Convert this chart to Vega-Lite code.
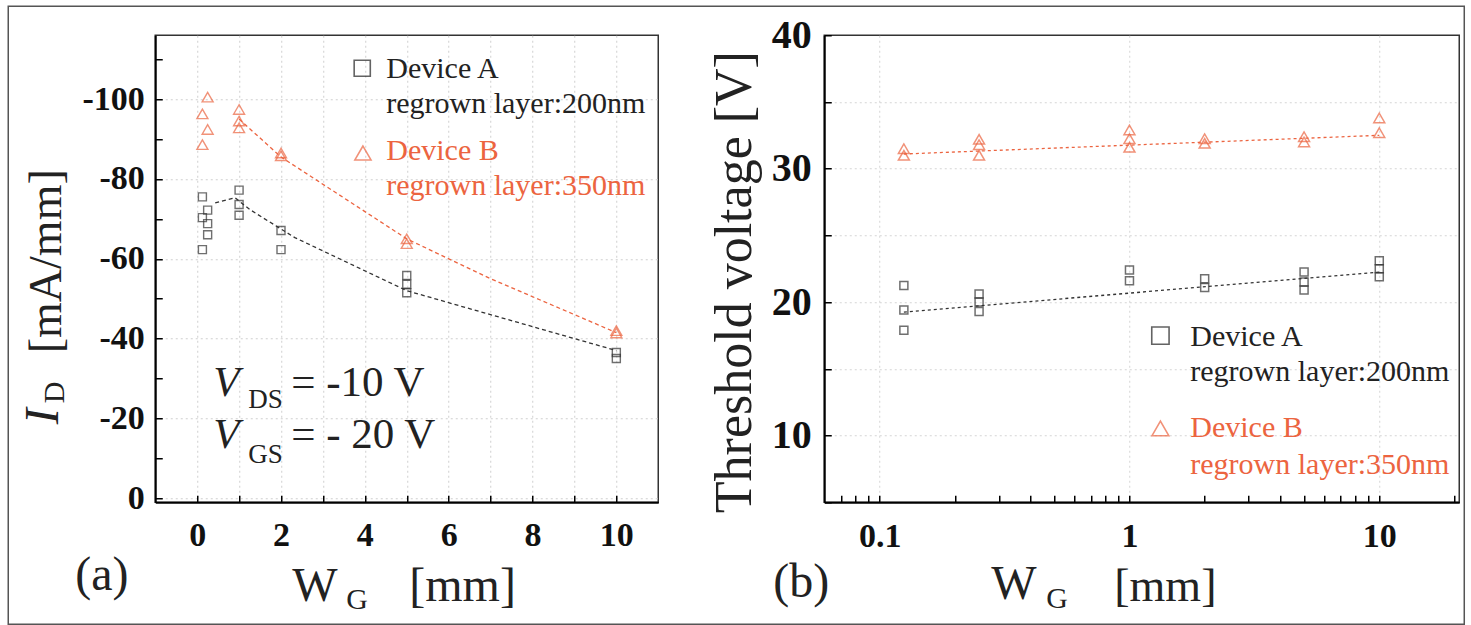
{
  "$schema": "https://vega.github.io/schema/vega-lite/v6.json",
  "background": "white",
  "padding": {"left": 6.25, "top": 4.25, "right": 0, "bottom": 0},
  "spacing": 166,
  "bounds": "flush",
  "config": {
    "view": {"stroke": "#333", "strokeWidth": 1.5},
    "font": "Liberation Serif",
    "mark": {"font": "Liberation Serif"},
    "text": {"font": "Liberation Serif"},
    "axis": {
      "domainColor": "#000", "domainWidth": 2,
      "tickColor": "#000", "tickWidth": 1.5, "tickSize": -7,
      "labelFont": "Liberation Serif", "labelFontWeight": "bold", "labelColor": "#111",
      "gridDash": [2, 3], "gridWidth": 1
    }
  },
  "datasets": {
    "one": [{}],
    "idPoints": [
      {"w": 0.125, "id": -75.5, "device": "A"}, {"w": 0.125, "id": -70.3, "device": "A"}, {"w": 0.125, "id": -62.3, "device": "A"},
      {"w": 0.25, "id": -72.2, "device": "A"}, {"w": 0.25, "id": -68.8, "device": "A"}, {"w": 0.25, "id": -66.0, "device": "A"},
      {"w": 1, "id": -77.2, "device": "A"}, {"w": 1, "id": -73.6, "device": "A"}, {"w": 1, "id": -70.9, "device": "A"},
      {"w": 2, "id": -67.1, "device": "A"}, {"w": 2, "id": -62.3, "device": "A"},
      {"w": 5, "id": -55.8, "device": "A"}, {"w": 5, "id": -53.6, "device": "A"}, {"w": 5, "id": -51.5, "device": "A"},
      {"w": 10, "id": -36.5, "device": "A"}, {"w": 10, "id": -35.0, "device": "A"},
      {"w": 0.125, "id": -96.3, "device": "B"}, {"w": 0.125, "id": -88.6, "device": "B"},
      {"w": 0.25, "id": -100.5, "device": "B"}, {"w": 0.25, "id": -92.4, "device": "B"},
      {"w": 1, "id": -97.4, "device": "B"}, {"w": 1, "id": -94.5, "device": "B"}, {"w": 1, "id": -92.8, "device": "B"},
      {"w": 2, "id": -86.5, "device": "B"}, {"w": 2, "id": -85.8, "device": "B"},
      {"w": 5, "id": -65.0, "device": "B"}, {"w": 5, "id": -63.8, "device": "B"},
      {"w": 10, "id": -42.0, "device": "B"}, {"w": 10, "id": -41.4, "device": "B"}
    ],
    "idFit": [
      {"w": 0.43, "id": -74.0, "device": "A"}, {"w": 0.9, "id": -75.3, "device": "A"}, {"w": 1.26, "id": -72.3, "device": "A"},
      {"w": 2.33, "id": -65.3, "device": "A"}, {"w": 5, "id": -52.0, "device": "A"}, {"w": 10, "id": -37.0, "device": "A"},
      {"w": 1, "id": -95.0, "device": "B"}, {"w": 2, "id": -85.5, "device": "B"}, {"w": 5, "id": -65.0, "device": "B"},
      {"w": 7, "id": -55.0, "device": "B"}, {"w": 10, "id": -41.5, "device": "B"}
    ],
    "vthPoints": [
      {"w": 0.125, "vth": 21.25, "device": "A"}, {"w": 0.125, "vth": 19.4, "device": "A"}, {"w": 0.125, "vth": 17.9, "device": "A"},
      {"w": 0.25, "vth": 20.6, "device": "A"}, {"w": 0.25, "vth": 20.0, "device": "A"}, {"w": 0.25, "vth": 19.3, "device": "A"},
      {"w": 1, "vth": 22.4, "device": "A"}, {"w": 1, "vth": 21.6, "device": "A"},
      {"w": 2, "vth": 21.75, "device": "A"}, {"w": 2, "vth": 21.1, "device": "A"},
      {"w": 5, "vth": 22.25, "device": "A"}, {"w": 5, "vth": 21.5, "device": "A"}, {"w": 5, "vth": 20.9, "device": "A"},
      {"w": 10, "vth": 23.1, "device": "A"}, {"w": 10, "vth": 22.5, "device": "A"}, {"w": 10, "vth": 21.9, "device": "A"},
      {"w": 0.125, "vth": 31.5, "device": "B"}, {"w": 0.125, "vth": 31.0, "device": "B"},
      {"w": 0.25, "vth": 32.2, "device": "B"}, {"w": 0.25, "vth": 31.8, "device": "B"}, {"w": 0.25, "vth": 31.0, "device": "B"},
      {"w": 1, "vth": 32.9, "device": "B"}, {"w": 1, "vth": 32.25, "device": "B"}, {"w": 1, "vth": 31.6, "device": "B"},
      {"w": 2, "vth": 32.25, "device": "B"}, {"w": 2, "vth": 31.9, "device": "B"},
      {"w": 5, "vth": 32.4, "device": "B"}, {"w": 5, "vth": 32.0, "device": "B"},
      {"w": 10, "vth": 33.8, "device": "B"}, {"w": 10, "vth": 32.7, "device": "B"}
    ],
    "vthFit": [
      {"w": 0.125, "vth": 19.25, "device": "A"}, {"w": 10, "vth": 22.25, "device": "A"},
      {"w": 0.125, "vth": 31.1, "device": "B"}, {"w": 10, "vth": 32.5, "device": "B"}
    ]
  },
  "hconcat": [
    {
      "width": 503,
      "height": 467,
      "layer": [
        {
          "data": {"name": "idPoints"},
          "mark": {"type": "point", "filled": false, "strokeWidth": 1.4},
          "encoding": {
            "x": {"field": "w", "type": "quantitative", "scale": {"type": "linear", "domain": [-1, 11], "nice": false, "zero": false},
              "axis": {"title": null, "values": [0, 1, 2, 3, 4, 5, 6, 7, 8, 9, 10],
                "labelExpr": "datum.value % 2 == 0 ? '' + datum.value : ''",
                "labelFontSize": 34, "labelPadding": 23, "grid": true, "gridColor": "#cfcfcf"}},
            "y": {"field": "id", "type": "quantitative", "scale": {"domain": [-116, 1], "reverse": true, "nice": false, "zero": false},
              "axis": {"title": null, "values": [-110, -100, -90, -80, -70, -60, -50, -40, -30, -20, -10, 0],
                "labelExpr": "datum.value % 20 == 0 ? '' + datum.value : ''",
                "labelFontSize": 34, "labelPadding": 18, "grid": true,
                "gridColor": {"condition": {"test": "datum.value % 20 == 0", "value": "#cfcfcf"}, "value": "transparent"}}},
            "shape": {"field": "device", "type": "nominal", "scale": {"domain": ["A", "B"], "range": ["square", "triangle-up"]}, "legend": null},
            "color": {"field": "device", "type": "nominal", "scale": {"domain": ["A", "B"], "range": ["#333333", "#ec6440"]}, "legend": null},
            "size": {"field": "device", "type": "nominal", "scale": {"domain": ["A", "B"], "range": [64, 120]}, "legend": null}
          }
        },
        {
          "data": {"name": "idFit"},
          "mark": {"type": "line", "strokeDash": [4, 3], "strokeWidth": 1.3},
          "encoding": {
            "x": {"field": "w", "type": "quantitative"},
            "y": {"field": "id", "type": "quantitative"},
            "detail": {"field": "device"},
            "color": {"field": "device", "type": "nominal", "scale": {"domain": ["A", "B"], "range": ["#333333", "#ec6440"]}, "legend": null}
          }
        },
        {
          "data": {"name": "one"},
          "mark": {"type": "rect", "fillOpacity": 0, "stroke": "#555", "strokeWidth": 1.5},
          "encoding": {
            "x": {"datum": -4.507}, "x2": {"datum": 30.229},
            "y": {"datum": -123.266}, "y2": {"datum": 31.57}
          }
        },
        {
          "data": {"name": "one"},
          "mark": {"type": "point", "shape": "square", "filled": false, "color": "#222", "size": 260, "strokeWidth": 1.6},
          "encoding": {"x": {"datum": 3.938}, "y": {"datum": -107.73}}
        },
        {
          "data": {"name": "one"},
          "mark": {"type": "point", "shape": "triangle-up", "filled": false, "color": "#ec6440", "size": 260, "strokeWidth": 1.6},
          "encoding": {"x": {"datum": 3.955}, "y": {"datum": -86.51}}
        },
        {
          "data": {"name": "one"},
          "mark": {"type": "text", "text": "Device A", "align": "left", "baseline": "alphabetic", "font": "Liberation Serif", "fontSize": 30, "color": "#222"},
          "encoding": {"x": {"datum": 4.511}, "y": {"datum": -105.23}}
        },
        {
          "data": {"name": "one"},
          "mark": {"type": "text", "text": "regrown layer:200nm", "align": "left", "baseline": "alphabetic", "font": "Liberation Serif", "fontSize": 30, "color": "#222"},
          "encoding": {"x": {"datum": 4.511}, "y": {"datum": -96.53}}
        },
        {
          "data": {"name": "one"},
          "mark": {"type": "text", "text": "Device B", "align": "left", "baseline": "alphabetic", "font": "Liberation Serif", "fontSize": 30, "color": "#ec6440"},
          "encoding": {"x": {"datum": 4.511}, "y": {"datum": -84.86}}
        },
        {
          "data": {"name": "one"},
          "mark": {"type": "text", "text": "regrown layer:350nm", "align": "left", "baseline": "alphabetic", "font": "Liberation Serif", "fontSize": 30, "color": "#ec6440"},
          "encoding": {"x": {"datum": 4.511}, "y": {"datum": -76.09}}
        },
        {
          "data": {"name": "one"},
          "mark": {"type": "text", "text": "V", "align": "left", "baseline": "alphabetic", "font": "Liberation Serif", "fontSize": 43, "fontStyle": "italic", "color": "#222"},
          "encoding": {"x": {"datum": 0.384}, "y": {"datum": -25.55}}
        },
        {
          "data": {"name": "one"},
          "mark": {"type": "text", "text": "DS", "align": "left", "baseline": "alphabetic", "font": "Liberation Serif", "fontSize": 27, "color": "#222"},
          "encoding": {"x": {"datum": 1.219}, "y": {"datum": -22.55}}
        },
        {
          "data": {"name": "one"},
          "mark": {"type": "text", "text": "= -10 V", "align": "left", "baseline": "alphabetic", "font": "Liberation Serif", "fontSize": 43, "color": "#222"},
          "encoding": {"x": {"datum": 2.245}, "y": {"datum": -25.55}}
        },
        {
          "data": {"name": "one"},
          "mark": {"type": "text", "text": "V", "align": "left", "baseline": "alphabetic", "font": "Liberation Serif", "fontSize": 43, "fontStyle": "italic", "color": "#222"},
          "encoding": {"x": {"datum": 0.384}, "y": {"datum": -12.53}}
        },
        {
          "data": {"name": "one"},
          "mark": {"type": "text", "text": "GS", "align": "left", "baseline": "alphabetic", "font": "Liberation Serif", "fontSize": 27, "color": "#222"},
          "encoding": {"x": {"datum": 1.219}, "y": {"datum": -8.77}}
        },
        {
          "data": {"name": "one"},
          "mark": {"type": "text", "text": "= - 20 V", "align": "left", "baseline": "alphabetic", "font": "Liberation Serif", "fontSize": 43, "color": "#222"},
          "encoding": {"x": {"datum": 2.245}, "y": {"datum": -12.53}}
        },
        {
          "data": {"name": "one"},
          "mark": {"type": "text", "text": "I", "align": "left", "baseline": "alphabetic", "angle": 270, "font": "Liberation Serif", "fontSize": 48, "fontStyle": "italic", "color": "#222"},
          "encoding": {"x": {"datum": -3.314}, "y": {"datum": -18.54}}
        },
        {
          "data": {"name": "one"},
          "mark": {"type": "text", "text": "D", "align": "left", "baseline": "alphabetic", "angle": 270, "font": "Liberation Serif", "fontSize": 30, "color": "#222"},
          "encoding": {"x": {"datum": -3.171}, "y": {"datum": -23.8}}
        },
        {
          "data": {"name": "one"},
          "mark": {"type": "text", "text": "[mA/mm]", "align": "left", "baseline": "alphabetic", "angle": 270, "font": "Liberation Serif", "fontSize": 46, "color": "#222"},
          "encoding": {"x": {"datum": -3.243}, "y": {"datum": -36.33}}
        },
        {
          "data": {"name": "one"},
          "mark": {"type": "text", "text": "W", "align": "left", "baseline": "alphabetic", "font": "Liberation Serif", "fontSize": 48, "color": "#222"},
          "encoding": {"x": {"datum": 2.268}, "y": {"datum": 25.81}}
        },
        {
          "data": {"name": "one"},
          "mark": {"type": "text", "text": "G", "align": "left", "baseline": "alphabetic", "font": "Liberation Serif", "fontSize": 30, "color": "#222"},
          "encoding": {"x": {"datum": 3.557}, "y": {"datum": 27.81}}
        },
        {
          "data": {"name": "one"},
          "mark": {"type": "text", "text": "[mm]", "align": "left", "baseline": "alphabetic", "font": "Liberation Serif", "fontSize": 48, "color": "#222"},
          "encoding": {"x": {"datum": 5.06}, "y": {"datum": 25.81}}
        },
        {
          "data": {"name": "one"},
          "mark": {"type": "text", "text": "(a)", "align": "left", "baseline": "alphabetic", "font": "Liberation Serif", "fontSize": 48, "color": "#222"},
          "encoding": {"x": {"datum": -2.909}, "y": {"datum": 23.05}}
        }
      ]
    },
    {
      "width": 635,
      "height": 467,
      "layer": [
        {
          "data": {"name": "vthPoints"},
          "mark": {"type": "point", "filled": false, "strokeWidth": 1.5},
          "encoding": {
            "x": {"field": "w", "type": "quantitative", "scale": {"type": "log", "domain": [0.06, 20.9], "nice": false},
              "axis": {"title": null,
                "values": [0.07, 0.08, 0.09, 0.1, 0.2, 0.3, 0.4, 0.5, 0.6, 0.7, 0.8, 0.9, 1, 2, 3, 4, 5, 6, 7, 8, 9, 10, 20],
                "labelExpr": "datum.value == 0.1 ? '0.1' : datum.value == 1 ? '1' : datum.value == 10 ? '10' : ''",
                "labelFontSize": 34, "labelPadding": 24, "grid": true,
                "gridColor": {"condition": {"test": "datum.value == 0.1 || datum.value == 1 || datum.value == 10", "value": "#d5d5d5"}, "value": "transparent"}}},
            "y": {"field": "vth", "type": "quantitative", "scale": {"domain": [5, 40], "nice": false, "zero": false},
              "axis": {"title": null, "values": [5, 10, 15, 20, 25, 30, 35, 40],
                "labelExpr": "datum.value % 10 == 0 ? '' + datum.value : ''",
                "labelFontSize": 40, "labelPadding": 20, "grid": true,
                "gridColor": {"condition": {"test": "datum.value < 40", "value": "#d5d5d5"}, "value": "transparent"}}},
            "shape": {"field": "device", "type": "nominal", "scale": {"domain": ["A", "B"], "range": ["square", "triangle-up"]}, "legend": null},
            "color": {"field": "device", "type": "nominal", "scale": {"domain": ["A", "B"], "range": ["#333333", "#ec6440"]}, "legend": null},
            "size": {"field": "device", "type": "nominal", "scale": {"domain": ["A", "B"], "range": [120, 150]}, "legend": null}
          }
        },
        {
          "data": {"name": "vthFit"},
          "mark": {"type": "line", "strokeDash": [3, 3], "strokeWidth": 1.3},
          "encoding": {
            "x": {"field": "w", "type": "quantitative"},
            "y": {"field": "vth", "type": "quantitative"},
            "detail": {"field": "device"},
            "color": {"field": "device", "type": "nominal", "scale": {"domain": ["A", "B"], "range": ["#333333", "#ec6440"]}, "legend": null}
          }
        },
        {
          "data": {"name": "one"},
          "mark": {"type": "point", "shape": "square", "filled": false, "color": "#222", "size": 300, "strokeWidth": 1.6},
          "encoding": {"x": {"datum": 1.33}, "y": {"datum": 17.49}}
        },
        {
          "data": {"name": "one"},
          "mark": {"type": "point", "shape": "triangle-up", "filled": false, "color": "#ec6440", "size": 280, "strokeWidth": 1.6},
          "encoding": {"x": {"datum": 1.33}, "y": {"datum": 10.53}}
        },
        {
          "data": {"name": "one"},
          "mark": {"type": "text", "text": "Device A", "align": "left", "baseline": "alphabetic", "font": "Liberation Serif", "fontSize": 30, "color": "#222"},
          "encoding": {"x": {"datum": 1.752}, "y": {"datum": 16.74}}
        },
        {
          "data": {"name": "one"},
          "mark": {"type": "text", "text": "regrown layer:200nm", "align": "left", "baseline": "alphabetic", "font": "Liberation Serif", "fontSize": 30, "color": "#222"},
          "encoding": {"x": {"datum": 1.752}, "y": {"datum": 14.12}}
        },
        {
          "data": {"name": "one"},
          "mark": {"type": "text", "text": "Device B", "align": "left", "baseline": "alphabetic", "font": "Liberation Serif", "fontSize": 30, "color": "#ec6440"},
          "encoding": {"x": {"datum": 1.752}, "y": {"datum": 9.88}}
        },
        {
          "data": {"name": "one"},
          "mark": {"type": "text", "text": "regrown layer:350nm", "align": "left", "baseline": "alphabetic", "font": "Liberation Serif", "fontSize": 30, "color": "#ec6440"},
          "encoding": {"x": {"datum": 1.752}, "y": {"datum": 7.15}}
        },
        {
          "data": {"name": "one"},
          "mark": {"type": "text", "text": "Threshold voltage  [V]", "align": "left", "baseline": "alphabetic", "angle": 270, "font": "Liberation Serif", "fontSize": 52, "color": "#222"},
          "encoding": {"x": {"datum": 0.03062}, "y": {"datum": 4.18}}
        },
        {
          "data": {"name": "one"},
          "mark": {"type": "text", "text": "(b)", "align": "left", "baseline": "alphabetic", "font": "Liberation Serif", "fontSize": 48, "color": "#222"},
          "encoding": {"x": {"datum": 0.0375}, "y": {"datum": -2.106}}
        },
        {
          "data": {"name": "one"},
          "mark": {"type": "text", "text": "W", "align": "left", "baseline": "alphabetic", "font": "Liberation Serif", "fontSize": 48, "color": "#222"},
          "encoding": {"x": {"datum": 0.2797}, "y": {"datum": -2.25}}
        },
        {
          "data": {"name": "one"},
          "mark": {"type": "text", "text": "G", "align": "left", "baseline": "alphabetic", "font": "Liberation Serif", "fontSize": 30, "color": "#222"},
          "encoding": {"x": {"datum": 0.4644}, "y": {"datum": -2.93}}
        },
        {
          "data": {"name": "one"},
          "mark": {"type": "text", "text": "[mm]", "align": "left", "baseline": "alphabetic", "font": "Liberation Serif", "fontSize": 46, "color": "#222"},
          "encoding": {"x": {"datum": 0.8692}, "y": {"datum": -2.4}}
        }
      ]
    }
  ]
}
